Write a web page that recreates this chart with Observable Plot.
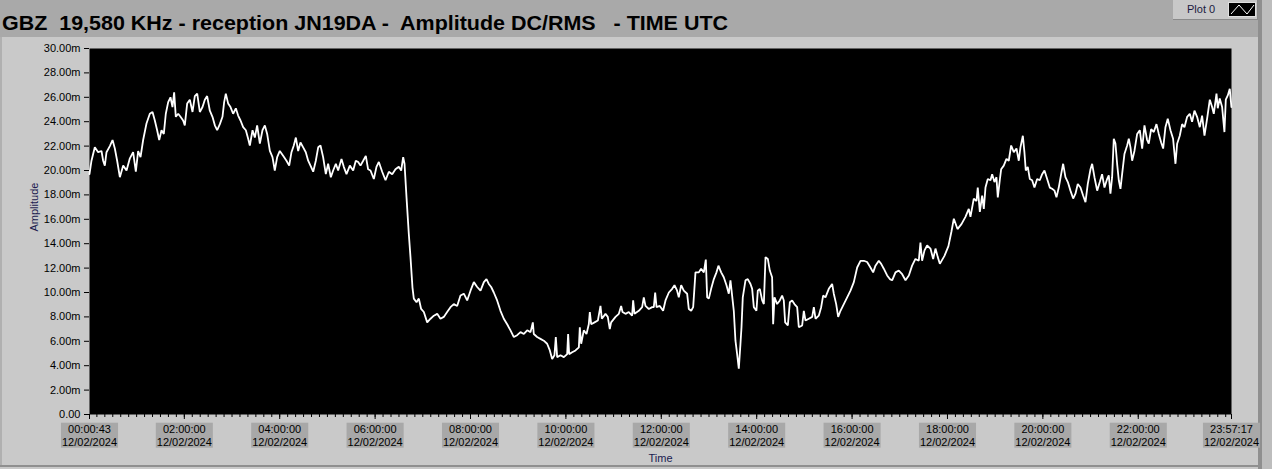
<!DOCTYPE html>
<html>
<head>
<meta charset="utf-8">
<script src="https://cdn.jsdelivr.net/npm/d3@7"></script>
<script src="https://cdn.jsdelivr.net/npm/@observablehq/plot@0.6"></script>
<style>
  html, body { margin: 0; padding: 0; }
  body { width: 1272px; height: 469px; position: relative; overflow: hidden; background: #c9c9c9; font-family: "Liberation Sans", Arial, sans-serif; }
  #header { position: absolute; left: 0; top: 0; width: 1258px; height: 37px; background: #a9a9a9; }
  #legend { position: absolute; left: 1173px; top: 0; width: 84px; height: 19px; background: #c8c8c8; border-bottom: 1px solid #8a8a8a; border-right: 1px solid #8a8a8a; }
  #legend span { position: absolute; left: 14px; top: 3px; font-size: 11px; color: #1a1a40; }
  #legend svg { position: absolute; left: 55px; top: 2px; }
  #strip { position: absolute; left: 1258px; top: 0; width: 4px; height: 469px; background: #8f8f8f; }
  #rightpanel { position: absolute; left: 1262px; top: 0; width: 10px; height: 469px; background: #bdbdbd; }
  #bottomline { position: absolute; left: 0; top: 465px; width: 1258px; height: 2px; background: #8f8f8f; }
  #leftline { position: absolute; left: 0; top: 37px; width: 2px; height: 430px; background: #b0b0b0; }
  #chart { position: absolute; left: 0; top: 38px; }
</style>
</head>
<body>
<div id="header">
  <svg width="760" height="37" style="position:absolute;left:0;top:0">
    <text x="2" y="30" textLength="726" lengthAdjust="spacingAndGlyphs" xml:space="preserve" style="font-family:'Liberation Sans',Arial,sans-serif;font-weight:bold;font-size:19.5px;fill:#000;white-space:pre">GBZ  19,580 KHz - reception JN19DA -  Amplitude DC/RMS   - TIME UTC</text>
  </svg>
  <div id="legend"><span>Plot 0</span>
    <svg width="28" height="15"><rect x="0.5" y="0.5" width="27" height="14" fill="#000" stroke="#e0e0e0"/><polyline points="3,12 11,3 19,12 26,3" fill="none" stroke="#fff" stroke-width="1"/></svg>
  </div>
</div>
<div id="strip"></div>
<div id="rightpanel"></div>
<div id="leftline"></div>
<div id="bottomline"></div>
<div id="chart"></div>
<script>
// ---- data ----
const dateLabel = "12/02/2024";
const majorTickLabels = ["00:00:43","02:00:00","04:00:00","06:00:00","08:00:00","10:00:00","12:00:00","14:00:00","16:00:00","18:00:00","20:00:00","22:00:00","23:57:17"];
const yTicks = [0,2,4,6,8,10,12,14,16,18,20,22,24,26,28,30];

// minutes after 00:00 UTC
const minutesUTC = [
0.7,3.2,7.4,11.6,15.8,17.9,20.0,22.1,26.3,29.7,32.6,35.5,38.9,43.1,47.3,51.5,55.6,59.0,61.9,64.9,
68.2,72.4,76.6,80.0,82.9,85.8,88.4,91.3,94.2,96.7,99.7,102.6,105.1,107.2,109.3,112.3,115.2,118.5,120.6,123.6,
126.9,130.3,133.2,136.2,139.5,142.9,145.8,148.7,152.1,155.4,158.4,161.3,164.7,168.0,170.1,172.2,175.1,178.1,181.4,184.8,
187.7,190.7,194.0,197.4,200.3,202.4,205.8,208.7,211.6,215.0,218.3,221.3,224.2,227.6,230.9,233.8,236.8,240.1,244.3,248.5,
251.9,254.8,257.7,260.3,263.2,266.1,269.5,272.8,275.8,278.7,282.1,285.4,288.4,291.3,294.6,298.0,300.9,304.3,307.2,310.6,
313.5,317.7,320.6,324.0,328.2,332.4,335.7,338.7,341.6,345.0,348.3,351.2,354.2,
358.4,361.7,364.7,368.9,373.1,377.3,381.5,385.6,389.8,392.8,395.3,397.0,399.5,402.4,404.5,407.0,408.7,412.1,415.0,417.9,
421.3,425.5,429.7,433.9,438.1,442.2,446.4,450.6,454.8,459.0,463.2,467.4,471.6,475.8,480.0,484.2,488.4,492.6,496.8,500.1,
503.0,506.0,509.3,513.5,517.7,521.9,526.1,530.3,534.5,538.7,542.9,547.1,551.3,555.5,558.4,559.6,563.8,568.0,572.2,576.4,
579.8,582.7,585.6,587.3,589.0,593.2,597.4,601.6,602.8,604.1,607.9,612.1,616.3,617.5,619.2,622.5,625.9,628.8,630.1,631.8,
636.0,640.2,643.5,645.2,649.8,652.7,655.2,656.9,662.4,666.6,669.5,671.2,675.0,679.1,683.3,684.6,686.3,691.7,695.9,698.0,
700.1,704.3,708.5,
710.6,712.3,714.0,718.1,722.3,725.3,729.5,733.7,736.6,739.9,742.0,745.0,748.3,752.5,754.6,757.6,760.1,763.0,767.2,770.1,
773.5,776.0,777.7,779.8,782.7,786.1,789.4,791.9,795.3,798.6,802.0,804.9,807.0,809.1,811.2,813.3,815.4,817.5,819.6,820.9,
822.5,825.9,828.8,832.2,834.3,836.4,839.7,841.4,843.9,846.9,849.0,851.1,854.0,856.5,859.4,860.7,862.4,865.7,869.1,872.0,
874.1,875.8,879.2,881.7,884.6,887.5,890.9,893.0,897.2,899.3,901.4,905.6,909.8,911.9,914.0,918.1,921.1,923.6,926.5,930.7,
934.9,937.0,940.0,942.5,945.4,949.6,953.8,958.0,962.2,966.4,970.6,974.8,978.9,983.1,986.5,989.4,993.6,996.6,999.9,1004.1,
1007.5,1010.4,1014.6,1018.8,1023.0,1027.2,1031.4,1035.5,1039.7,1043.9,1046.0,1048.1,1051.1,1054.4,1058.6,1062.0,1064.9,1067.8,1070.4,
1076.2,1081.2,1085.0,1088.0,1092.6,1097.6,1102.6,
1106.8,1108.9,1113.1,1116.5,1118.1,1120.7,1123.6,1125.7,1127.8,1130.7,1134.1,1136.2,1139.1,1141.6,1143.3,1145.8,1147.5,1150.8,1154.2,1157.1,
1160.1,1163.4,1166.8,1169.7,1171.8,1174.8,1176.8,1178.5,1181.0,1183.6,1186.5,1189.4,1192.8,1196.1,1199.1,1202.0,1205.4,1208.7,1211.6,1214.6,
1217.1,1220.0,1223.0,1225.5,1228.4,1231.4,1234.7,1238.1,1241.0,1243.9,1247.3,1250.6,1253.6,1256.5,1259.9,1262.0,1264.9,1268.3,1271.6,1274.5,
1277.5,1280.8,1282.9,1285.0,1287.1,1289.2,1291.3,1293.4,1295.5,1297.6,1299.7,1302.6,1306.0,1308.1,1310.2,1312.3,1315.2,1318.6,1321.9,1324.9,
1327.8,1331.1,1333.2,1336.2,1339.5,1342.9,1345.8,1348.8,1351.3,1354.2,1357.1,1360.5,1363.8,1366.8,1368.9,1372.2,1375.2,1378.1,1381.5,1384.8,
1387.7,1390.7,1394.0,1397.4,1400.3,1403.3,1406.6,1410.0,1412.9,1415.0,1418.4,1420.0,1422.5,1425.5,1428.4,1430.1,1432.6,1435.1,1437.2
];
// amplitude in mV (displayed with "m" suffix)
const amplitudeMV = [
19.7,20.8,21.9,21.5,21.6,20.8,20.4,21.5,22.0,22.5,21.8,20.8,19.45,20.4,20.0,21.0,21.5,19.9,21.6,21.1,
22.5,23.85,24.65,24.8,24.1,23.3,22.5,23.3,23.0,24.65,25.6,26.0,25.2,26.4,24.4,24.65,24.4,24.1,23.7,25.5,
25.8,24.8,26.1,26.3,24.8,25.2,25.8,26.1,24.9,24.4,23.7,23.3,23.8,24.4,25.6,26.3,25.5,25.2,24.65,25.1,
24.5,24.1,23.55,23.3,22.6,22.05,23.3,22.7,23.7,22.2,23.3,23.7,23.0,21.6,21.1,20.0,21.1,21.6,21.2,20.8,
20.4,21.5,22.05,22.7,21.6,22.3,21.9,21.5,20.8,20.4,19.9,20.8,21.9,22.05,21.1,19.7,20.55,19.45,20.0,20.55,
20.0,20.95,20.3,19.7,20.4,20.0,20.8,20.7,20.4,20.8,21.2,20.1,20.0,
19.3,20.3,20.7,19.9,19.2,19.9,19.7,20.1,20.3,20.0,21.1,20.55,17.8,14.8,12.9,10.4,9.5,9.2,9.5,8.65,
8.4,7.55,7.85,8.1,8.25,7.85,8.0,8.4,8.8,9.05,8.9,9.75,9.9,9.35,10.15,10.85,10.45,10.15,10.85,11.1,
10.7,10.45,10.0,9.35,8.5,7.85,7.4,6.9,6.35,6.5,6.75,6.6,6.9,6.75,7.55,6.6,6.35,6.2,6.05,5.8,
5.25,4.55,4.85,6.35,4.7,4.85,4.7,4.95,6.6,4.95,5.1,5.25,5.5,7.15,5.8,6.9,6.6,7.4,8.4,7.4,
7.55,7.7,8.9,7.85,8.25,8.0,7.0,7.55,8.0,8.25,8.9,8.4,8.25,8.4,8.1,9.35,8.25,8.5,8.8,9.6,
8.9,8.65,8.8,
8.8,10.0,8.8,8.9,8.5,9.35,10.0,10.3,10.6,10.15,9.6,10.6,10.15,9.9,8.65,8.5,8.8,11.65,11.65,11.95,
11.65,12.7,9.6,9.5,10.3,11.1,11.65,12.2,11.65,11.25,10.6,9.9,11.0,9.75,8.5,6.05,4.95,3.75,5.8,7.15,
9.6,11.0,11.1,10.7,10.3,8.8,8.5,10.15,10.3,9.35,9.05,12.9,12.75,11.8,11.25,7.4,9.6,9.05,9.35,9.75,
9.35,7.55,7.3,9.2,9.35,9.05,8.8,7.15,7.3,8.5,7.7,7.85,8.0,8.8,7.85,8.1,8.8,9.75,9.6,10.3,
10.7,9.9,9.05,8.0,8.5,9.05,9.6,10.15,10.85,12.05,12.6,12.6,12.5,12.05,11.65,12.2,12.6,12.35,11.95,11.4,
11.1,11.0,11.65,11.8,11.5,11.0,11.4,12.2,12.75,12.6,14.1,12.6,13.45,13.85,13.6,12.75,13.6,12.9,12.35,
13.0,13.8,15.0,16.05,15.2,15.6,16.2,
16.85,16.2,17.7,17.5,18.6,16.6,17.95,16.85,18.6,19.3,19.2,19.7,19.05,19.45,17.8,19.2,20.1,20.4,20.95,20.8,
22.05,21.5,21.8,20.8,21.9,22.85,21.5,20.0,20.3,19.3,19.2,18.6,19.3,19.2,19.7,20.0,19.3,18.6,18.5,18.35,
17.8,18.6,19.7,20.55,19.45,19.05,18.35,17.7,18.1,18.9,18.6,17.95,17.4,18.9,20.1,20.55,19.45,18.35,19.05,19.7,
18.6,19.3,19.6,18.1,19.45,22.6,22.2,20.55,19.2,18.5,19.7,21.35,22.05,22.6,21.9,20.8,21.6,23.0,23.3,21.8,
23.7,22.5,22.2,23.4,23.15,23.8,23.0,22.3,21.8,23.55,24.25,23.3,22.6,20.55,22.2,22.85,23.8,23.55,24.4,24.65,
24.0,24.9,24.4,23.55,24.5,22.85,24.25,25.8,25.2,24.65,26.3,25.1,25.9,25.2,23.15,25.8,26.15,26.7,25.2
];

// ---- build table ----
const day0 = Date.UTC(2024, 1, 12, 0, 0, 0);
const n = Math.min(minutesUTC.length, amplitudeMV.length);
const series = [];
for (let i = 0; i < n; i++) series.push({t: new Date(day0 + minutesUTC[i] * 60000), v: amplitudeMV[i]});

const parseHMS = s => { const [h, m, sec] = s.split(":").map(Number); return new Date(day0 + ((h * 60 + m) * 60 + sec) * 1000); };
const majorTicks = majorTickLabels.map(parseHMS);
const xStart = majorTicks[0], xEnd = majorTicks[majorTicks.length - 1];
const minorTicks = d3.utcMinute.every(10).range(xStart, xEnd);
const labelOf = new Map(majorTicks.map((d, i) => [+d, majorTickLabels[i] + "\n" + dateLabel]));

const chart = Plot.plot({
  width: 1272,
  height: 431,
  marginLeft: 89,
  marginRight: 41,
  marginTop: 10,
  marginBottom: 55,
  style: {background: "transparent", color: "#000", fontFamily: "'Liberation Sans', Arial, sans-serif", fontSize: "11px", overflow: "visible"},
  x: {type: "utc", domain: [xStart, xEnd]},
  y: {domain: [0, 30]},
  marks: [
    Plot.frame({fill: "#000", stroke: null}),
    Plot.line(series, {x: "t", y: "v", stroke: "#fff", strokeWidth: 1.8, strokeLinejoin: "miter"}),
    Plot.axisY({ticks: yTicks, tickSize: 5, tickPadding: 4, label: null, stroke: "#000",
      tickFormat: d => d === 0 ? "0.00" : d.toFixed(2) + "m", fontSize: 11}),
    Plot.axisX({ticks: minorTicks, tickSize: 3, tickFormat: () => "", label: null, stroke: "#000"}),
    Plot.axisX({ticks: majorTicks, tickSize: 5, tickPadding: 4, label: null, stroke: "#000",
      tickFormat: d => labelOf.get(+d), lineHeight: 1.18, fontSize: 11}),
    Plot.text(["Time"], {frameAnchor: "bottom", dy: 47, fill: "#1a1a50", fontSize: 11}),
    Plot.text(["Amplitude"], {frameAnchor: "left", dx: -55, rotate: -90, fill: "#1a1a50", fontSize: 11})
  ]
});
document.getElementById("chart").appendChild(chart);

// grey boxes behind the x tick labels, as in the reference
chart.querySelectorAll('g[aria-label="x-axis tick label"] text').forEach(t => {
  const b = t.getBBox();
  if (b.width < 2) return;
  const r = document.createElementNS("http://www.w3.org/2000/svg", "rect");
  r.setAttribute("x", b.x - 1);
  r.setAttribute("y", b.y);
  r.setAttribute("width", b.width + 2);
  r.setAttribute("height", b.height);
  r.setAttribute("fill", "#a8a8a8");
  const tr = t.getAttribute("transform");
  if (tr) r.setAttribute("transform", tr);
  t.parentNode.insertBefore(r, t);
});
</script>
</body>
</html>
